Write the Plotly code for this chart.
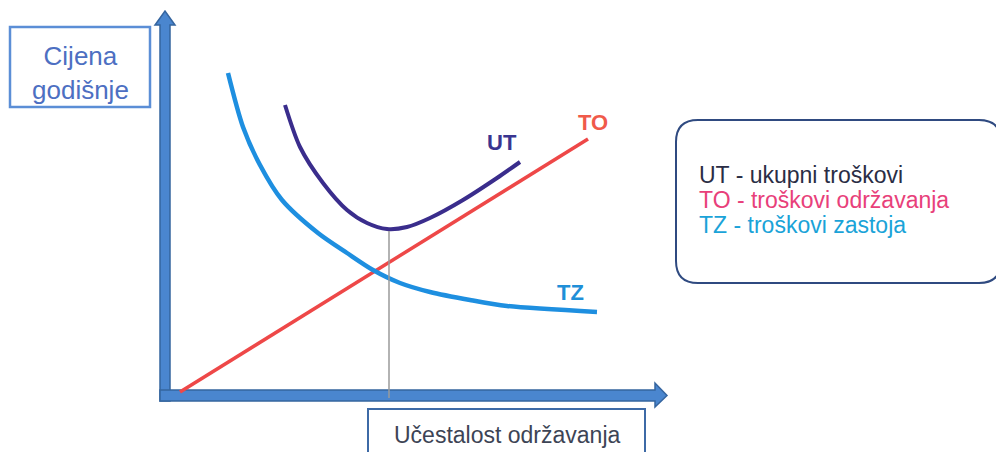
import plotly.graph_objects as go

# Conceptual cost curves (x: maintenance frequency, y: annual cost), in diagram units
tz_x = [63, 78, 95, 117, 153, 182, 208, 235, 265, 305, 342, 432]
tz_y = [322, 268, 230, 195, 162, 142, 125, 112, 103, 95, 89, 83]

ut_x = [120, 135, 158, 182, 202, 222, 242, 265, 298, 332, 355]
ut_y = [290, 248, 212, 185, 172, 166, 168, 177, 195, 217, 233]

to_x = [15, 423]
to_y = [3, 256]

opt_x = 224  # optimum frequency (minimum of UT)
opt_y = 166

y_label = "Cijena<br>godišnje"
x_label = "Učestalost održavanja"
legend_lines = [("UT - ukupni troškovi", "#2a2d45"),
                ("TO - troškovi održavanja", "#e8407a"),
                ("TZ - troškovi zastoja", "#1aa3d8")]

FONT = "Liberation Sans, Arial, sans-serif"

fig = go.Figure()

fig.add_trace(go.Scatter(x=to_x, y=to_y, mode="lines",
                         line=dict(color="#ee4848", width=3.5), hoverinfo="skip"))
fig.add_trace(go.Scatter(x=tz_x, y=tz_y, mode="lines", line_shape="spline",
                         line=dict(color="#1e8fe0", width=4.5, smoothing=0.8), hoverinfo="skip"))
fig.add_trace(go.Scatter(x=ut_x, y=ut_y, mode="lines", line_shape="spline",
                         line=dict(color="#3a2d8c", width=4, smoothing=0.8), hoverinfo="skip"))
fig.add_trace(go.Scatter(x=[opt_x, opt_x], y=[-3, opt_y - 2], mode="lines",
                         line=dict(color="#9a9a9a", width=1.5), hoverinfo="skip"))

shapes = []
arrow_fill = "#4a86cf"
arrow_line = "#35659f"
# Y axis arrow
shapes.append(dict(type="path", xref="x", yref="y",
                   path="M -5,-6 L 5,-6 L 5,370 L 10,370 L 0,384 L -10,370 L -5,370 Z",
                   fillcolor=arrow_fill, line=dict(color=arrow_line, width=1.5), layer="below"))
# X axis arrow
shapes.append(dict(type="path", xref="x", yref="y",
                   path="M -5,5 L 490,5 L 490,12 L 502,-0.5 L 490,-12 L 490,-6 L -5,-6 Z",
                   fillcolor=arrow_fill, line=dict(color=arrow_line, width=1.5), layer="below"))
# Y label box
shapes.append(dict(type="rect", xref="x", yref="y", x0=-155, x1=-15, y0=288, y1=368,
                   line=dict(color="#5b8ed6", width=2.5), fillcolor="rgba(0,0,0,0)"))
# X label box
shapes.append(dict(type="rect", xref="x", yref="y", x0=203, x1=480, y0=-80, y1=-14,
                   line=dict(color="#3d6aa6", width=2), fillcolor="rgba(0,0,0,0)"))
# Legend rounded box
x0, x1, y0, y1, r = 511, 836, 112, 275, 22
legend_path = (f"M {x0+r},{y1} L {x1-r},{y1} Q {x1},{y1} {x1},{y1-r} "
               f"L {x1},{y0+r} Q {x1},{y0} {x1-r},{y0} L {x0+r},{y0} "
               f"Q {x0},{y0} {x0},{y0+r} L {x0},{y1-r} Q {x0},{y1} {x0+r},{y1} Z")
shapes.append(dict(type="path", xref="x", yref="y", path=legend_path,
                   line=dict(color="#2f4a80", width=2), fillcolor="rgba(0,0,0,0)"))

annotations = [
    dict(x=-85, y=322, text=y_label, showarrow=False,
         font=dict(family=FONT, size=26, color="#4d6fc2"), xanchor="center", yanchor="middle"),
    dict(x=342, y=-40, text=x_label, showarrow=False,
         font=dict(family=FONT, size=23, color="#3d4455"), xanchor="center", yanchor="middle"),
    dict(x=337, y=253, text="<b>UT</b>", showarrow=False,
         font=dict(family=FONT, size=22, color="#3a3590"), xanchor="center", yanchor="middle"),
    dict(x=428, y=273, text="<b>TO</b>", showarrow=False,
         font=dict(family=FONT, size=22, color="#f05a4a"), xanchor="center", yanchor="middle"),
    dict(x=405, y=103, text="<b>TZ</b>", showarrow=False,
         font=dict(family=FONT, size=22, color="#1f8fd8"), xanchor="center", yanchor="middle"),
]
for i, (txt, col) in enumerate(legend_lines):
    annotations.append(dict(x=532, y=220 - 25 * i, text=txt, showarrow=False,
                            font=dict(family=FONT, size=23, color=col),
                            xanchor="left", yanchor="middle"))

# The page body adds an 8px margin, so ranges are offset by 8px to compensate
fig.update_layout(
    width=1004, height=452,
    margin=dict(l=0, r=0, t=0, b=0),
    paper_bgcolor="white", plot_bgcolor="white",
    showlegend=False,
    xaxis=dict(range=[-157, 847], visible=False, fixedrange=True),
    yaxis=dict(range=[-65, 387], visible=False, fixedrange=True),
    shapes=shapes, annotations=annotations,
)

fig.write_html("out.html")
